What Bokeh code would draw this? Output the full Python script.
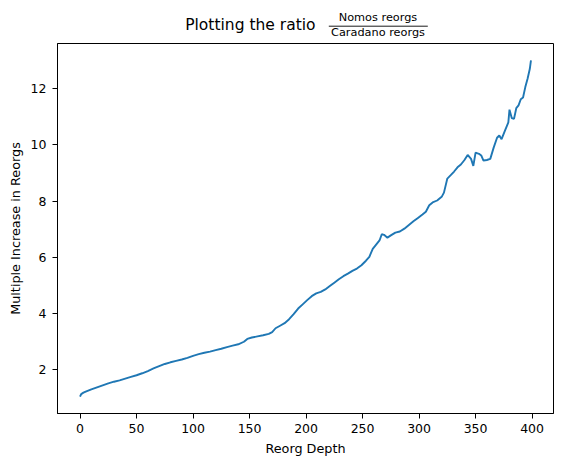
from bokeh.plotting import figure
from bokeh.models import Range1d, FixedTicker, ColumnDataSource
from bokeh.layouts import column
from bokeh.core.properties import value
from bokeh.embed import file_html
from bokeh.resources import INLINE

depth = [0, 1, 3, 5, 10, 15, 20, 25, 30, 35, 40, 45, 50, 55, 60, 65, 70, 75, 80, 85,
         90, 95, 100, 105, 110, 115, 120, 125, 130, 135, 140, 145, 148, 152, 157, 162,
         167, 170, 173, 177, 181, 185, 189, 193, 197, 201, 205, 209, 213, 217, 221, 225,
         229, 233, 237, 241, 245, 249, 253, 256, 259, 262, 265, 267, 269, 272, 275, 279,
         283, 287, 291, 295, 299, 303, 306, 309, 312, 316, 320, 322, 325, 328, 331, 334,
         337, 340, 343, 346, 348, 350, 353, 355, 357, 360, 363, 366, 369, 371, 373, 376,
         379, 380, 382, 384, 386, 388, 390, 392, 394, 396, 398, 399]
ratio = [1.05, 1.14, 1.19, 1.23, 1.31, 1.38, 1.45, 1.52, 1.58, 1.63, 1.69, 1.75, 1.81,
         1.88, 1.96, 2.05, 2.13, 2.21, 2.27, 2.32, 2.37, 2.43, 2.50, 2.56, 2.61, 2.65,
         2.70, 2.75, 2.81, 2.86, 2.91, 3.00, 3.10, 3.15, 3.19, 3.23, 3.28, 3.34, 3.48,
         3.57, 3.66, 3.80, 3.98, 4.18, 4.33, 4.48, 4.62, 4.72, 4.77, 4.86, 4.98, 5.10,
         5.22, 5.33, 5.42, 5.52, 5.60, 5.72, 5.88, 6.02, 6.30, 6.45, 6.60, 6.82, 6.80,
         6.70, 6.78, 6.88, 6.92, 7.02, 7.15, 7.28, 7.40, 7.52, 7.62, 7.85, 7.95, 8.02,
         8.15, 8.30, 8.80, 8.92, 9.05, 9.20, 9.30, 9.45, 9.64, 9.50, 9.25, 9.72, 9.68,
         9.62, 9.44, 9.46, 9.50, 9.90, 10.25, 10.33, 10.20, 10.50, 10.80, 11.25, 10.95,
         10.92, 11.30, 11.40, 11.62, 11.68, 12.05, 12.35, 12.70, 13.00]

x_ticks = [0, 50, 100, 150, 200, 250, 300, 350, 400]
y_ticks = [2, 4, 6, 8, 10, 12]

title_main = "Plotting the ratio"
title_num = "Nomos reorgs"
title_den = "Caradano reorgs"
x_label = "Reorg Depth"
y_label = "Multiple Increase in Reorgs"

FONT = "DejaVu Sans"
LEFT, RIGHT, FW = 57, 10, 496
TOP = 43

# ---- title strip: a bare figure, same horizontal frame as the chart, data units = page pixels ----
t = figure(output_backend="svg", toolbar_location=None,
           frame_width=FW, frame_height=TOP,
           min_border_left=LEFT, min_border_right=RIGHT, min_border_top=0, min_border_bottom=0,
           x_range=Range1d(LEFT, LEFT + FW), y_range=Range1d(TOP, 0))
t.axis.visible = False
t.grid.visible = False
t.outline_line_color = None
t.background_fill_color = "white"
t.border_fill_color = "white"
t.text(x=[315.0], y=[24.2], text=[title_main], text_font=value(FONT),
       text_font_size="15.5px", text_color="black",
       text_align="right", text_baseline="middle")
t.text(x=[377.5, 377.5], y=[16.8, 31.8], text=[title_num, title_den],
       text_font=value(FONT), text_font_size="11.3px", text_color="black",
       text_align="center", text_baseline="middle")
t.segment(x0=[328.3], y0=[25.7], x1=[427.3], y1=[25.7], line_color="black", line_width=0.9)

# ---- main chart ----
p = figure(output_backend="svg", toolbar_location=None,
           frame_width=FW, frame_height=370,
           min_border_left=LEFT, min_border_right=RIGHT, min_border_top=0, min_border_bottom=50,
           x_range=Range1d(-19.95, 418.95), y_range=Range1d(0.45, 13.6))
p.background_fill_color = "white"
p.border_fill_color = "white"
p.outline_line_color = "black"
p.outline_line_width = 1
p.outline_line_alpha = 1
p.xgrid.visible = False
p.ygrid.visible = False

src = ColumnDataSource(dict(x=depth, y=ratio))
p.line("x", "y", source=src, line_color="#1f77b4", line_width=1.9)

for ax, ticks in ((p.xaxis[0], x_ticks), (p.yaxis[0], y_ticks)):
    ax.ticker = FixedTicker(ticks=ticks)
    ax.minor_tick_line_color = None
    ax.major_tick_in = 0
    ax.major_tick_out = 5
    ax.major_tick_line_color = "black"
    ax.axis_line_color = "black"
    ax.major_label_text_font = FONT
    ax.major_label_text_font_size = "12.5px"
    ax.major_label_text_color = "black"
    ax.axis_label_text_font = FONT
    ax.axis_label_text_font_size = "12.8px"
    ax.axis_label_text_font_style = "normal"
    ax.axis_label_text_color = "black"

p.xaxis.major_label_standoff = 5
p.xaxis.axis_label_standoff = 5
p.yaxis.major_label_standoff = 6
p.yaxis.axis_label_standoff = 5

p.xaxis.axis_label = x_label
p.yaxis.axis_label = y_label

layout = column(t, p, spacing=0)
open("out.html", "w").write(file_html(layout, INLINE))
